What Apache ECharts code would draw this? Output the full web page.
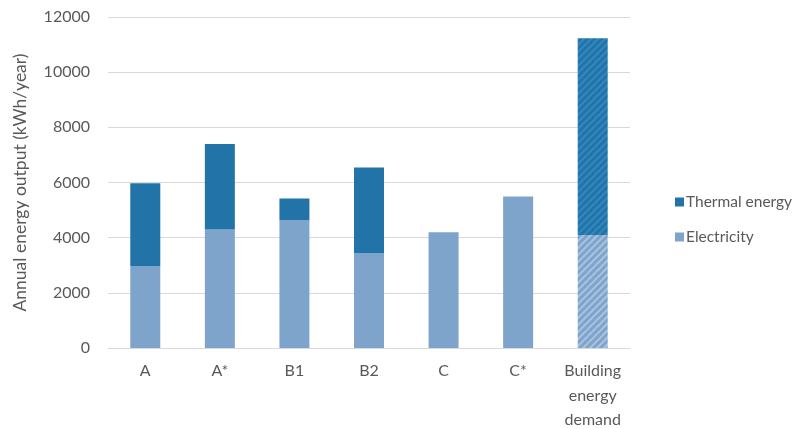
<!DOCTYPE html>
<html>
<head>
<meta charset="utf-8">
<style>
  html, body { margin: 0; padding: 0; background: #ffffff; }
  #chart { width: 795px; height: 429px; }
</style>
<script src="https://cdn.jsdelivr.net/npm/echarts@6/dist/echarts.min.js"></script>
</head>
<body>
<div id="chart"></div>
<script>
// Annual energy output per configuration, split into electricity and thermal parts (kWh/year)
const categories = ['A', 'A*', 'B1', 'B2', 'C', 'C*', 'Building\nenergy\ndemand'];
const electricity = [2970, 4300, 4630, 3440, 4200, 5490, 4100];
const thermal = [3000, 3100, 790, 3100, 0, 0, 7130];
const yTicks = { min: 0, max: 12000, interval: 2000 };

const COLOR_THERMAL = '#2274a8';
const COLOR_ELEC = '#7ea4cb';
const TEXT = '#595959';
const FONT = 'Lato, "Open Sans", sans-serif';

// Diagonal-stripe fill used for the demand bar
function stripePattern(base, stripe) {
  const s = 7;
  const c = document.createElement('canvas');
  c.width = s; c.height = s;
  const g = c.getContext('2d');
  g.fillStyle = base;
  g.fillRect(0, 0, s, s);
  g.strokeStyle = stripe;
  g.lineWidth = 2;
  g.beginPath();
  g.moveTo(-1, s + 1); g.lineTo(s + 1, -1);
  g.moveTo(-1, 1); g.lineTo(1, -1);
  g.moveTo(s - 1, s + 1); g.lineTo(s + 1, s - 1);
  g.stroke();
  return { image: c, repeat: 'repeat' };
}

const demandIndex = categories.length - 1;
function toData(values, base, stripe) {
  return values.map((v, i) => {
    if (v === 0) return '-';
    if (i === demandIndex) {
      return { value: v, itemStyle: { color: stripePattern(base, stripe) } };
    }
    return v;
  });
}

const chart = echarts.init(document.getElementById('chart'), null, { renderer: 'canvas' });
chart.setOption({
  animation: false,
  backgroundColor: '#ffffff',
  textStyle: { fontFamily: FONT },
  grid: { left: 108, right: 165, top: 17, bottom: 81, containLabel: false, outerBoundsMode: 'none' },
  legend: {
    orient: 'vertical',
    left: 670,
    top: 189,
    itemWidth: 9,
    itemHeight: 9,
    itemGap: 19,
    icon: 'rect',
    textStyle: { color: TEXT, fontSize: 15.5, fontFamily: FONT, padding: [0, 0, 0, -3] },
    data: ['Thermal energy', 'Electricity']
  },
  xAxis: {
    type: 'category',
    data: categories,
    axisLine: { lineStyle: { color: '#d9d9d9', width: 1 } },
    axisTick: { show: false },
    axisLabel: { color: TEXT, fontSize: 16, fontFamily: FONT, lineHeight: 24.5, margin: 11, interval: 0 }
  },
  yAxis: {
    type: 'value',
    min: yTicks.min,
    max: yTicks.max,
    interval: yTicks.interval,
    name: 'Annual energy output (kWh/year)',
    nameLocation: 'middle',
    nameGap: 79,
    nameRotate: 90,
    nameTextStyle: { color: TEXT, fontSize: 17.5, fontFamily: FONT },
    axisLine: { show: false },
    axisTick: { show: false },
    axisLabel: { color: TEXT, fontSize: 16, fontFamily: FONT, margin: 18, formatter: v => String(v) },
    splitLine: { lineStyle: { color: '#d9d9d9', width: 1 } }
  },
  series: [
    {
      name: 'Electricity',
      type: 'bar',
      stack: 'total',
      barWidth: 30,
      itemStyle: { color: COLOR_ELEC },
      data: toData(electricity, COLOR_ELEC, '#a8c3df')
    },
    {
      name: 'Thermal energy',
      type: 'bar',
      stack: 'total',
      barWidth: 30,
      itemStyle: { color: COLOR_THERMAL },
      data: toData(thermal, COLOR_THERMAL, '#3287bd')
    }
  ]
});
</script>
</body>
</html>
